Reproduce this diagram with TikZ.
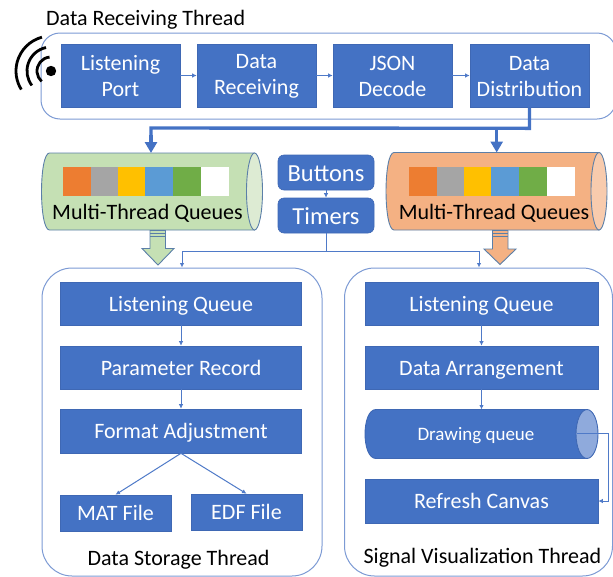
\documentclass[tikz,border=0pt]{standalone}
\usepackage{fontspec}
\setmainfont{Carlito}
\usetikzlibrary{arrows.meta,calc}
\definecolor{bluefill}{HTML}{4472C4}
\definecolor{blueedge}{HTML}{3F68B4}
\definecolor{outerline}{HTML}{7C9AD4}
\definecolor{joinline}{HTML}{4F7AC8}
\definecolor{cylline}{HTML}{5B7FA8}
\definecolor{greenA}{HTML}{C5E0B4}
\definecolor{greenB}{HTML}{DDEBD3}
\definecolor{orangeA}{HTML}{F4B183}
\definecolor{orangeB}{HTML}{F8CBAD}
\definecolor{qblueB}{HTML}{8FAADC}
\definecolor{sq1}{HTML}{ED7D31}
\definecolor{sq2}{HTML}{A5A5A5}
\definecolor{sq3}{HTML}{FFC000}
\definecolor{sq4}{HTML}{5B9BD5}
\definecolor{sq5}{HTML}{70AD47}
\newcommand{\cylshape}[8]{% x0 x1 y0 y1 rx body end line
  \path[draw=#8,line width=0.9pt,fill=#6]
    ({#2-#5},#3) -- ({#1+#5},#3)
    .. controls ({#1-0.33*#5},#3) and ({#1-0.33*#5},#4) .. ({#1+#5},#4)
    -- ({#2-#5},#4) -- cycle;
  \path[draw=#8,line width=0.9pt,fill=#7]
    ({#2-#5},{0.5*(#3+#4)}) ellipse[x radius=#5pt,y radius={0.5*(#4-#3)*1pt}];
}
\newcommand{\firstline}{\rule{0pt}{16pt}}
\tikzset{
  x=1pt,y=-1pt,
  bluebox/.style={draw=blueedge,line width=0.6pt,fill=bluefill,text=white,font=\fontsize{22}{26}\selectfont,align=center,inner sep=0pt},
  oneline/.style={bluebox,text height=15.5pt,text depth=0.5pt},
  roundblue/.style={bluebox,rounded corners=6pt,font=\fontsize{24.5}{28}\selectfont,text height=18pt,text depth=0.5pt},
  outerbox/.style={draw=outerline,line width=1pt,fill=white,inner sep=0pt},
  label/.style={text=black,font=\fontsize{22}{26}\selectfont,inner sep=0pt},
  thin link/.style={draw=joinline,line width=1pt,-{Latex[length=4.5pt,width=4.5pt]}},
  plain link/.style={draw=joinline,line width=1pt},
  thick link/.style={draw=bluefill,line width=3.4pt},
  thick tip/.style={draw=bluefill,line width=3.4pt,-{Triangle[length=11pt,width=12pt]}},
  swatch/.style={minimum width=27.5pt,minimum height=29pt,inner sep=0pt,draw=none},
  wave/.style={line width=2.8pt,black},
  blockarrow/.style={draw=cylline,line width=0.9pt},
}
\begin{document}
\begin{tikzpicture}
\useasboundingbox (0,0) rectangle (613,576);
\clip (0,0) rectangle (613,576);

% ---- outer frames
\node[outerbox,rounded corners=19pt,minimum width=575pt,minimum height=86pt] (recvframe) at (328.5,76) {};
\node[outerbox,rounded corners=30pt,minimum width=280pt,minimum height=308pt] (storeframe) at (182,422) {};
\node[outerbox,rounded corners=30pt,minimum width=268pt,minimum height=308pt] (vizframe) at (478.5,422) {};

% ---- title labels
\node[label,anchor=west] (recvtitle) at (46,20) {Data Receiving Thread};
\node[label] (storetitle) at (178.5,559.5) {Data Storage Thread};
\node[label] (viztitle) at (482.5,557.5) {Signal Visualization Thread};

% ---- wifi symbol
\coordinate (wifi) at (51,71);
\fill[black] (wifi) circle[radius=5.2pt];
\draw[wave] ($(wifi)+(96:14pt)$) arc[start angle=96,end angle=228,radius=14pt];
\draw[wave] ($(wifi)+(102:24pt)$) arc[start angle=102,end angle=217,radius=24pt];
\draw[wave] ($(wifi)+(105:35pt)$) arc[start angle=105,end angle=212,radius=35pt];

% ---- receiving row
\node[bluebox,minimum width=119pt,minimum height=63pt] (port) at (120.5,75.5) {\firstline Listening\\Port};
\node[bluebox,minimum width=119pt,minimum height=63pt] (recv) at (256.5,75.5) {\firstline Data\\Receiving};
\node[bluebox,minimum width=119pt,minimum height=63pt] (json) at (392.5,75.5) {\firstline JSON\\Decode};
\node[bluebox,minimum width=119pt,minimum height=63pt] (dist) at (529.5,75.5) {\firstline Data\\Distribution};
\draw[thin link] (port) -- (recv);
\draw[thin link] (recv) -- (json);
\draw[thin link] (json) -- (dist);

% ---- queues
\cylshape{41.5}{262.5}{153}{230}{8}{greenA}{greenB}{cylline}
\cylshape{386}{607}{152.5}{230}{8}{orangeA}{orangeB}{cylline}
\foreach \n/\c/\xx in {1/sq1/77.2,2/sq2/104.5,3/sq3/131.7,4/sq4/159.1,5/sq5/187,6/white/215}{
  \node[swatch,fill=\c] (ga\n) at (\xx,181.5) {};
}
\foreach \n/\c/\xx in {1/sq1/423.2,2/sq2/450.5,3/sq3/477.7,4/sq4/505.1,5/sq5/533,6/white/561}{
  \node[swatch,fill=\c] (oa\n) at (\xx,181) {};
}
\node[label] (greenqt) at (147.5,213.5) {Multi-Thread Queues};
\node[label] (orangeqt) at (494,213.5) {Multi-Thread Queues};

% ---- thick distribution lines
\coordinate (trunk) at ($(dist.south)+(0,21)$);
\coordinate (gtarget) at (151,153);
\coordinate (otarget) at (496.7,152.5);
\draw[thick link,line join=miter] (dist.south) -- (trunk) -- (151,128) -- (151,142);
\draw[thick tip] (151,135) -- (gtarget);
\draw[thick tip] (496.7,128) -- (otarget);

% ---- buttons and timers
\node[roundblue,minimum width=96pt,minimum height=35pt] (buttons) at (326,172.5) {Buttons};
\node[roundblue,minimum width=96pt,minimum height=35pt] (timers) at (326,215.5) {Timers};
\draw[thin link] (buttons) -- (timers);
\coordinate (tjoin) at ($(timers.south)+(0,18)$);
\coordinate (lin) at (182,267.5);
\coordinate (rin) at (479,267.5);
\draw[plain link] (timers.south) -- (tjoin);
\draw[thin link] (tjoin) -| (lin);
\draw[thin link] (tjoin) -| (rin);

% ---- block arrows
\draw[blockarrow,fill=greenA] (150,230.5) -- (165.5,230.5) -- (165.5,248.5) -- (174,248.5) -- (158,265) -- (142,248.5) -- (150,248.5) -- cycle;
\draw[cylline,line width=0.9pt] (150,233.5) -- (165.5,233.5) (150,236.5) -- (165.5,236.5);
\draw[blockarrow,fill=orangeA] (492.5,230.5) -- (508,230.5) -- (508,249) -- (516,249) -- (500,264.5) -- (484,249) -- (492.5,249) -- cycle;
\draw[cylline,line width=0.9pt] (492.5,233.5) -- (508,233.5) (492.5,236.5) -- (508,236.5);

% ---- storage thread
\node[oneline,minimum width=241pt,minimum height=43pt] (lq1) at (181,303.5) {Listening Queue};
\node[oneline,minimum width=241pt,minimum height=43pt] (param) at (181,367.5) {Parameter Record};
\node[oneline,minimum width=241pt,minimum height=44pt] (format) at (181,431) {Format Adjustment};
\node[oneline,minimum width=111pt,minimum height=36pt] (mat) at (115.5,513) {MAT File};
\node[oneline,minimum width=111pt,minimum height=36pt] (edf) at (246.5,512) {EDF File};
\draw[thin link] (lq1) -- (param);
\draw[thin link] (param) -- (format);
\draw[thin link] (format.south) -- (mat.north);
\draw[thin link] (format.south) -- (edf.north);

% ---- visualization thread
\node[oneline,minimum width=233pt,minimum height=43pt] (lq2) at (481.5,303.5) {Listening Queue};
\node[oneline,minimum width=233pt,minimum height=43pt] (arrange) at (481.5,367.5) {Data Arrangement};
\cylshape{365}{598}{409.5}{458.5}{11}{bluefill}{qblueB}{blueedge}
\coordinate (drawqtop) at (481.5,409.5);
\node[text=white,font=\fontsize{19}{22}\selectfont,inner sep=0pt] (drawqt) at (476,436) {Drawing queue};
\node[oneline,minimum width=233pt,minimum height=44pt] (refresh) at (481.5,501) {Refresh Canvas};
\draw[thin link] (lq2) -- (arrange);
\draw[thin link] (arrange.south) -- (drawqtop);
\coordinate (qstart) at (577,433.5);
\coordinate (qbend) at (608,433.5);
\draw[thin link] (qstart) -- (qbend) |- (refresh.east);
\end{tikzpicture}
\end{document}
